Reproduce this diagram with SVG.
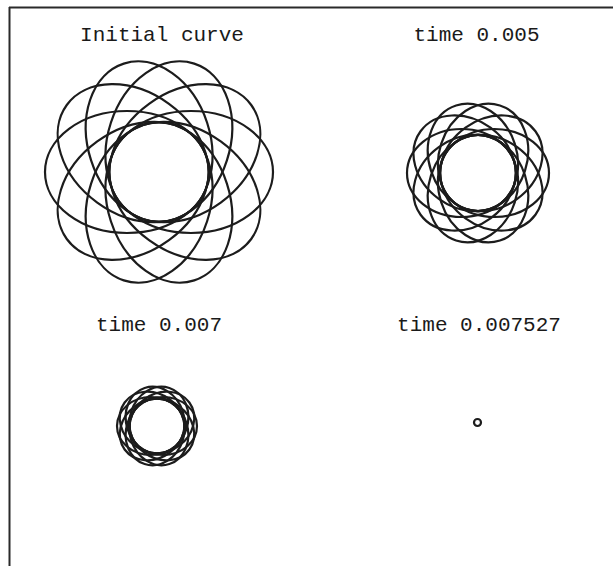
<svg xmlns="http://www.w3.org/2000/svg" xmlns:xlink="http://www.w3.org/1999/xlink" width="613" height="566" viewBox="0 0 613 566">
<style>
.frame{stroke:#2a2a2a;stroke-width:2;fill:none}
.crv{fill:none;stroke:#1c1c1c;stroke-width:2.2}
.lbl{font-family:"Liberation Mono","Courier New",monospace;font-size:21px;fill:#1a1a1a;text-anchor:middle}
</style>
<defs>
<ellipse id="e1" cx="-32" cy="0" rx="82" ry="61"/>
<ellipse id="e2" cx="-16.5" cy="0" rx="54.5" ry="44"/>
<ellipse id="e3" cx="-6" cy="0" rx="34" ry="29"/>
</defs>
<rect width="613" height="566" fill="#fff"/>
<g id="frame">
<line class="frame" x1="9" y1="7.5" x2="613" y2="7.5"/>
<line class="frame" x1="9.5" y1="7" x2="9.5" y2="566"/>
</g>
<g id="panel-initial">
<text class="lbl" x="162" y="41">Initial curve</text>
<g class="crv" transform="translate(159,172)">
<use xlink:href="#e1"/>
<use xlink:href="#e1" transform="rotate(36)"/>
<use xlink:href="#e1" transform="rotate(72)"/>
<use xlink:href="#e1" transform="rotate(108)"/>
<use xlink:href="#e1" transform="rotate(144)"/>
<use xlink:href="#e1" transform="rotate(180)"/>
<use xlink:href="#e1" transform="rotate(216)"/>
<use xlink:href="#e1" transform="rotate(252)"/>
<use xlink:href="#e1" transform="rotate(288)"/>
<use xlink:href="#e1" transform="rotate(324)"/>
</g>
</g>
<g id="panel-t005">
<text class="lbl" x="476.5" y="41">time 0.005</text>
<g class="crv" transform="translate(478,173)">
<use xlink:href="#e2"/>
<use xlink:href="#e2" transform="rotate(36)"/>
<use xlink:href="#e2" transform="rotate(72)"/>
<use xlink:href="#e2" transform="rotate(108)"/>
<use xlink:href="#e2" transform="rotate(144)"/>
<use xlink:href="#e2" transform="rotate(180)"/>
<use xlink:href="#e2" transform="rotate(216)"/>
<use xlink:href="#e2" transform="rotate(252)"/>
<use xlink:href="#e2" transform="rotate(288)"/>
<use xlink:href="#e2" transform="rotate(324)"/>
</g>
</g>
<g id="panel-t007">
<text class="lbl" x="159" y="331">time 0.007</text>
<g class="crv" transform="translate(157,426)">
<use xlink:href="#e3"/>
<use xlink:href="#e3" transform="rotate(36)"/>
<use xlink:href="#e3" transform="rotate(72)"/>
<use xlink:href="#e3" transform="rotate(108)"/>
<use xlink:href="#e3" transform="rotate(144)"/>
<use xlink:href="#e3" transform="rotate(180)"/>
<use xlink:href="#e3" transform="rotate(216)"/>
<use xlink:href="#e3" transform="rotate(252)"/>
<use xlink:href="#e3" transform="rotate(288)"/>
<use xlink:href="#e3" transform="rotate(324)"/>
</g>
</g>
<g id="panel-t007527">
<text class="lbl" x="479" y="331">time 0.007527</text>
<circle class="crv" cx="477.5" cy="422.5" r="3.5"/>
</g>
</svg>
